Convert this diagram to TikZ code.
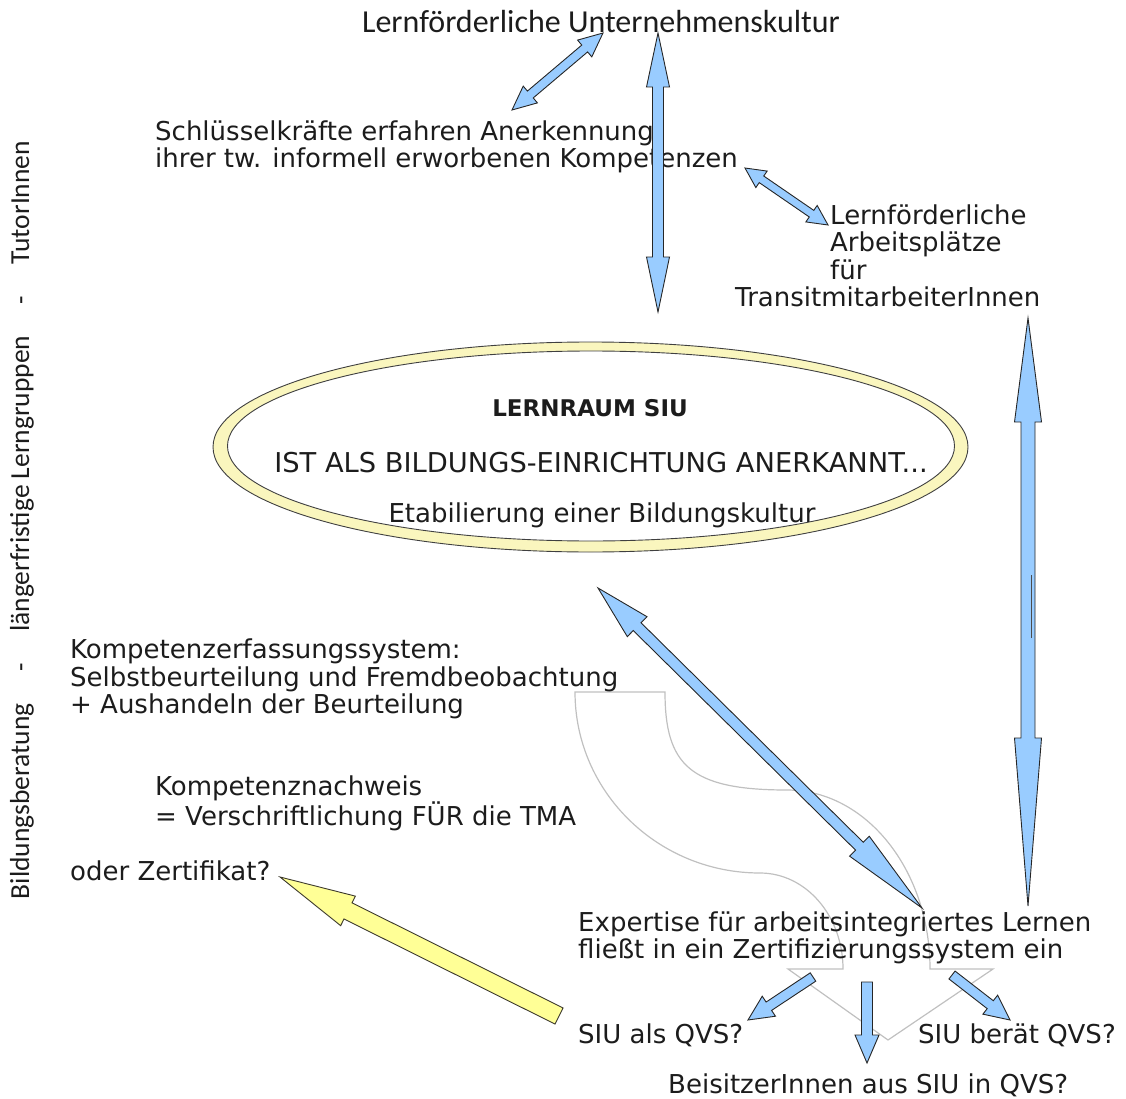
\documentclass[tikz,border=0pt]{standalone}
\usepackage{fontspec}
\setmainfont{DejaVu Sans}
\newfontfamily\calfont{Carlito}
\usetikzlibrary{calc,shapes.geometric}

\definecolor{arrowblue}{RGB}{153,204,255}
\definecolor{arrowyellow}{RGB}{255,255,150}
\definecolor{ringyellow}{RGB}{250,246,190}
\definecolor{textgray}{RGB}{28,28,28}
\definecolor{shapegray}{RGB}{192,192,192}

\tikzset{
  txt/.style={inner sep=0pt, anchor=west, align=left, text=textgray,
    font=\fontsize{26}{27.4}\selectfont},
  bluearrow/.style={fill=arrowblue, draw=black!85, line width=0.9pt},
  yellowarrow/.style={fill=arrowyellow, draw=black!75!olive, line width=0.9pt},
  ring/.style={ellipse, draw=black!75, line width=0.9pt, inner sep=0pt},
}

% block arrow with a head at both ends: from, to, half shaft, half head, head length at from, head length at to
\newcommand{\dblarrow}[6]{%
  \coordinate (ba-s) at ($(#1)!#5!(#2)$);
  \coordinate (ba-e) at ($(#2)!#6!(#1)$);
  \filldraw[bluearrow] (#1) -- ($(ba-s)!#4!90:(#2)$) -- ($(ba-s)!#3!90:(#2)$)
    -- ($(ba-e)!#3!-90:(#1)$) -- ($(ba-e)!#4!-90:(#1)$) -- (#2)
    -- ($(ba-e)!#4!90:(#1)$) -- ($(ba-e)!#3!90:(#1)$)
    -- ($(ba-s)!#3!-90:(#2)$) -- ($(ba-s)!#4!-90:(#2)$) -- cycle;
}
% block arrow with one head: style, from, to, half shaft, half head, head length
\newcommand{\onearrow}[6]{%
  \coordinate (ba-e) at ($(#3)!#6!(#2)$);
  \filldraw[#1] ($(#2)!#4!90:(#3)$) -- ($(ba-e)!#4!-90:(#2)$) -- ($(ba-e)!#5!-90:(#2)$)
    -- (#3) -- ($(ba-e)!#5!90:(#2)$) -- ($(ba-e)!#4!90:(#2)$)
    -- ($(#2)!#4!-90:(#3)$) -- cycle;
}

\begin{document}
\begin{tikzpicture}[x=1pt,y=-1pt]
\useasboundingbox (0,0) rectangle (1126,1099);

% grey curved arrow in the background
\draw[shapegray, line width=1.2pt] (575,692) -- (665,692)
  .. controls (665,765) and (690,790) .. (787,790)
  .. controls (866,790) and (930,870) .. (930,969) -- (993,969) -- (888,1040)
  -- (788,969) -- (843,969)
  .. controls (843,916) and (806,873) .. (760,873)
  .. controls (658,873) and (575,792) .. cycle;

% Lernraum
\node[ring, fill=ringyellow, minimum width=755pt, minimum height=210pt] (rand) at (590.5,447) {};
\node[ring, fill=white, minimum width=727pt, minimum height=190pt] (lernraum) at (591,446) {};
\node[txt, anchor=center, font=\fontsize{23}{26}\selectfont\bfseries] (siu) at (590,408) {LERNRAUM SIU};
\node[txt, anchor=center, font=\fontsize{27.3}{29}\selectfont] (anerkannt) at (601,463) {IST ALS BILDUNGS-EINRICHTUNG ANERKANNT...};
\node[txt, anchor=center] (kultur) at (602,515) {Etabilierung einer Bildungskultur};

% texts
\node[txt, anchor=center, font=\fontsize{32}{34}\selectfont\calfont] (unternehmen) at (601,22) {Lernförderliche Unternehmenskultur};
\node[txt] (schluessel) at (155,147) {Schlüsselkräfte erfahren Anerkennung\\ihrer tw. informell erworbenen Kompetenzen};
\node[txt] (platz) at (830,256) {Lernförderliche\\Arbeitsplätze\\für\\\hspace*{-95pt}TransitmitarbeiterInnen};
\node[txt] (erfassung) at (70,679) {Kompetenzerfassungssystem:\\Selbstbeurteilung und Fremdbeobachtung\\+ Aushandeln der Beurteilung};
\node[txt] (nachweis) at (155,803) {Kompetenznachweis\\= Verschriftlichung FÜR die TMA};
\node[txt] (zertifikat) at (70,871) {oder Zertifikat?};
\node[txt] (expertise) at (578,938) {Expertise für arbeitsintegriertes Lernen\\fließt in ein Zertifizierungssystem ein};
\node[txt] (qvs) at (578,1035) {SIU als QVS?};
\node[txt] (beraet) at (918,1035) {SIU berät QVS?};
\node[txt] (beisitz) at (668,1085) {BeisitzerInnen aus SIU in QVS?};
\node[txt, anchor=center, rotate=90, font=\fontsize{27.5}{29}\selectfont\calfont] (schiene) at (22,520)
  {Bildungsberatung\hspace{1.15em}-\hspace{1.15em}längerfristige Lerngruppen\hspace{1.15em}-\hspace{1.15em}TutorInnen};

% arrow ends
\coordinate (unternehmen-l) at (603,33);
\coordinate (schluessel-o) at (512,110);
\coordinate (unternehmen-r) at (658,33);
\coordinate (mitte-o) at (658,312);
\coordinate (schluessel-r) at (745,168);
\coordinate (platz-l) at (828,225);
\coordinate (platz-u) at (1028,318);
\coordinate (expertise-or) at (1028,906);
\coordinate (lernraum-u) at (598,588);
\coordinate (expertise-o) at (922,908);
\coordinate (expertise-l) at (813,977);
\coordinate (qvs-o) at (748,1020);
\coordinate (expertise-m) at (867,982);
\coordinate (beisitz-o) at (867,1063);
\coordinate (expertise-r) at (952,975);
\coordinate (beraet-o) at (1010,1020);
\coordinate (qvs-l) at (559,1016);
\coordinate (zertifikat-r) at (280,877);

% arrows
\dblarrow{unternehmen-l}{schluessel-o}{4.5pt}{11pt}{24pt}{24pt}
\dblarrow{unternehmen-r}{mitte-o}{5.5pt}{11.5pt}{54pt}{55pt}
\dblarrow{schluessel-r}{platz-l}{4pt}{10pt}{20pt}{20pt}
\dblarrow{platz-u}{expertise-or}{7pt}{13.5pt}{104pt}{168pt}
\draw[black!70, line width=1pt] (1031,575) -- (1031,638);
\dblarrow{lernraum-u}{expertise-o}{5.5pt}{14pt}{55pt}{88pt}
\onearrow{bluearrow}{expertise-l}{qvs-o}{5pt}{12pt}{25pt}
\onearrow{bluearrow}{expertise-m}{beisitz-o}{5.5pt}{12pt}{28pt}
\onearrow{bluearrow}{expertise-r}{beraet-o}{5pt}{12pt}{25pt}
\onearrow{yellowarrow}{qvs-l}{zertifikat-r}{9pt}{16.5pt}{76pt}

\end{tikzpicture}
\end{document}
